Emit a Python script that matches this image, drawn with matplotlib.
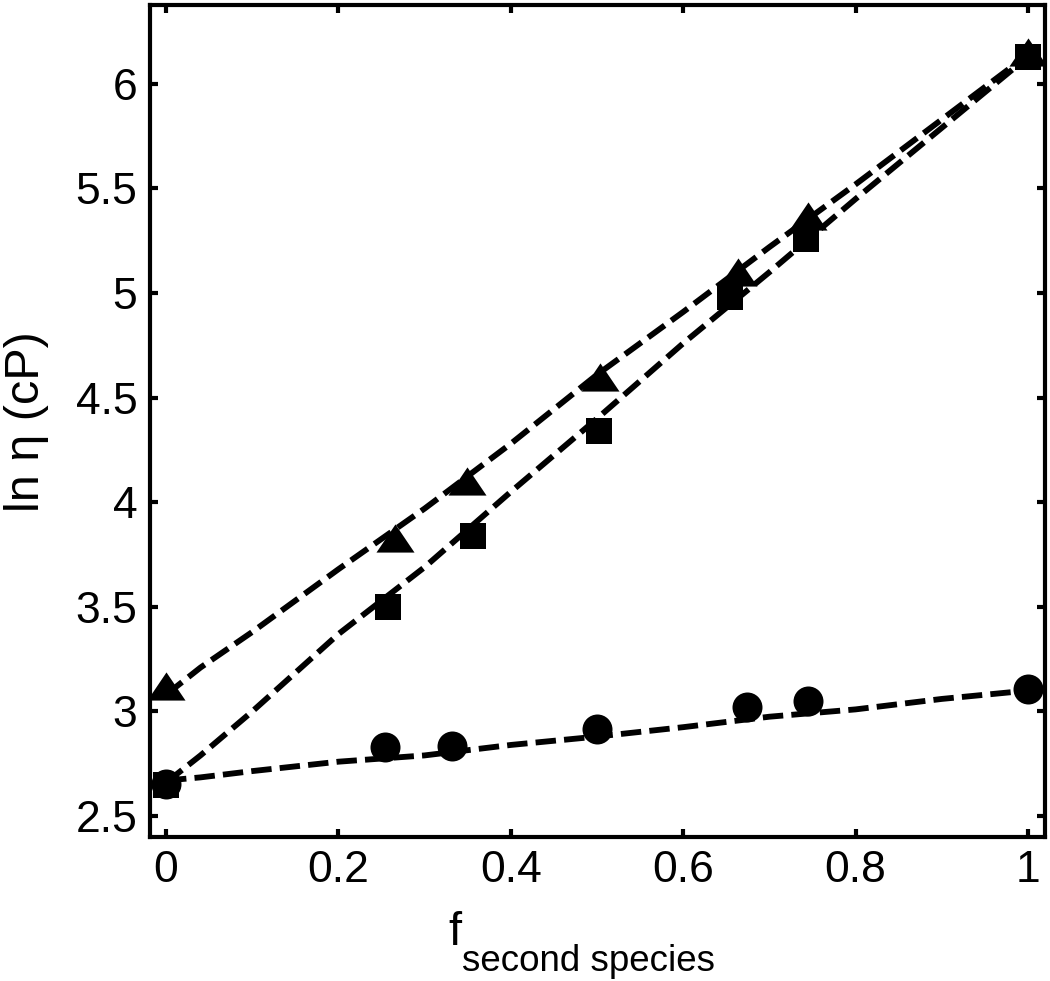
import matplotlib
matplotlib.use("Agg")
import matplotlib.pyplot as plt
import numpy as np

plt.rcParams['font.family'] = ['Liberation Sans', 'DejaVu Sans']

# measured data
tri_x = [0.0, 0.266, 0.349, 0.503, 0.664, 0.745, 1.0]
tri_y = [3.12, 3.83, 4.10, 4.60, 5.10, 5.37, 6.15]

sq_x = [0.0, 0.258, 0.356, 0.502, 0.654, 0.742, 1.0]
sq_y = [2.65, 3.50, 3.84, 4.34, 4.98, 5.26, 6.13]

circ_x = [0.0, 0.254, 0.332, 0.50, 0.674, 0.745, 1.0]
circ_y = [2.653, 2.83, 2.834, 2.915, 3.02, 3.05, 3.106]

# model (dashed) curves
model_x = [0.0, 0.04, 0.1, 0.2, 0.3, 0.4, 0.5, 0.6, 0.7, 0.8, 0.9, 1.0]
tri_model = [3.08, 3.21, 3.38, 3.68, 3.97, 4.28, 4.61, 4.91, 5.22, 5.52, 5.83, 6.14]
sq_model = [2.66, 2.79, 3.00, 3.37, 3.69, 4.05, 4.40, 4.76, 5.10, 5.45, 5.79, 6.13]
circ_model = [2.67, 2.685, 2.715, 2.76, 2.79, 2.84, 2.88, 2.925, 2.975, 3.01, 3.06, 3.10]

xticks = [0, 0.2, 0.4, 0.6, 0.8, 1.0]
xticklabels = ['0', '0.2', '0.4', '0.6', '0.8', '1']
yticks = [2.5, 3, 3.5, 4, 4.5, 5, 5.5, 6]
yticklabels = ['2.5', '3', '3.5', '4', '4.5', '5', '5.5', '6']

W, H = 1050, 981
fig = plt.figure(figsize=(W / 100, H / 100), dpi=100)
ax = fig.add_axes([150 / W, 1 - 837 / H, (1045 - 150) / W, (837 - 5) / H])

lw = 4.2
for ym in (tri_model, sq_model, circ_model):
    ax.plot(model_x, ym, color='black', lw=lw, dashes=(3.5, 1.4), zorder=2)

tri_marker = [(-1, -0.74), (1, -0.74), (0, 0.74), (-1, -0.74)]
ax.plot(tri_x, tri_y, linestyle='none', marker=tri_marker, ms=27.4,
        color='black', mew=0, zorder=3)
ax.plot(sq_x, sq_y, linestyle='none', marker='s', ms=19.4,
        color='black', mew=0, zorder=4)
ax.plot(circ_x, circ_y, linestyle='none', marker='o', ms=21.6,
        color='black', mew=0, zorder=5)

ax.set_xlim(-0.0186, 1.0197)
ax.set_ylim(2.40, 6.377)
ax.set_xticks(xticks)
ax.set_xticklabels(xticklabels)
ax.set_yticks(yticks)
ax.set_yticklabels(yticklabels)

for s in ax.spines.values():
    s.set_linewidth(3.0)
ax.tick_params(direction='in', length=5.5, width=3.0, top=True, right=True,
               labelsize=32, pad=9)

fig.text(27 / W, 1 - 422 / H, 'ln η (cP)', rotation=90, ha='center',
         va='center', fontsize=35)
fig.text(455 / W, 1 - 945 / H, 'f', ha='center', va='baseline', fontsize=34)
fig.text(462 / W, 1 - 971 / H, 'second species', ha='left', va='baseline',
         fontsize=26.5)

fig.savefig('out.png', dpi=100)
